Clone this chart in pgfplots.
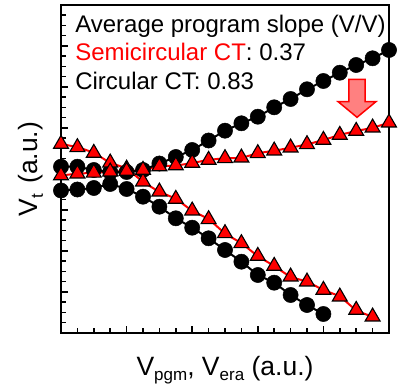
\documentclass[border=0pt]{standalone}
\usepackage{fontspec}
\setmainfont{Liberation Sans}
\usepackage{pgfplots}
\pgfplotsset{compat=1.18}
\definecolor{arrowfill}{HTML}{FF8080}
\newcommand{\sub}[1]{\raisebox{-5bp}{\fontsize{17bp}{17bp}\selectfont #1}}
\begin{document}
\begin{tikzpicture}
\begin{axis}[
  at={(0,0)}, anchor=south west, scale only axis,
  width=328bp, height=328bp,
  xmin=0, xmax=20, ymin=0, ymax=328,
  xtick={0,4,...,20}, minor x tick num=3,
  ytick={0,41,...,328}, minor y tick num=3,
  xticklabels={}, yticklabels={},
  xtick pos=bottom, ytick pos=left, tick align=inside,
  major tick length=7bp, minor tick length=5bp,
  every tick/.append style={black, line width=1.5bp},
  axis line style={line width=2bp},
  clip=false,
]
% red fitted lines
\addplot[red, line width=2bp, smooth, no marks] coordinates {
(0,189) (1,185.7) (2,180) (3,170.3) (4,164.2) (5,151.3) (6,141.3) (7,134) (8,122.3) (9,113.7)
(10,99.7) (11,89.7) (12,77) (13,67) (14,56.3) (15,51.3) (16,43) (17,36.3) (18,23) (19,16.3)};
\addplot[red, line width=2bp, smooth, no marks] coordinates {
(0,157.5) (1,159.3) (2,160.2) (3,161.3) (4,162) (5,163) (6,166.5) (7,167.5) (8,170) (9,173)
(10,174.7) (11,175.3) (12,179.7) (13,182.3) (14,185.3) (15,188.7) (16,193) (17,198) (18,202) (19,205.3) (20,210.3)};
% circular CT (black circles)
\addplot[black, line width=2bp, mark=*, mark size=7.6bp, mark options={line width=0.5bp}] coordinates {
(0,166.3) (1,166.3) (2,163) (3,161) (4,161) (5,163) (6,169.5) (7,176) (8,183) (9,192.5)
(10,202.3) (11,209.7) (12,216.3) (13,225.7) (14,234) (15,243.7) (16,252) (17,260.3) (18,268) (19,274.7) (20,283)};
\addplot[black, line width=2bp, mark=*, mark size=7.6bp, mark options={line width=0.5bp}] coordinates {
(0,142.5) (1,143.5) (2,145) (3,149) (4,144) (5,136.3) (6,126.3) (7,114.7) (8,105.3) (9,94.7)
(10,83) (11,71.3) (12,58) (13,50.3) (14,38) (15,28) (16,19)};
% semicircular CT (red triangles)
\addplot[only marks, mark=triangle*, mark size=8.6bp, mark options={fill=red, draw=black, line width=1.1bp}] coordinates {
(0,189) (1,185.7) (2,180) (3,170.3) (4,164.2) (5,151.3) (6,141.3) (7,134) (8,122.3) (9,113.7)
(10,99.7) (11,89.7) (12,77) (13,67) (14,56.3) (15,51.3) (16,43) (17,36.3) (18,23) (19,16.3)};
\addplot[only marks, mark=triangle*, mark size=8.6bp, mark options={fill=red, draw=black, line width=1.1bp}] coordinates {
(0,157.5) (1,159.3) (2,160.2) (3,161.3) (4,162) (5,163) (6,166.5) (7,167.5) (8,170) (9,173)
(10,174.7) (11,175.3) (12,179.7) (13,182.3) (14,185.3) (15,188.7) (16,193) (17,198) (18,202) (19,205.3) (20,210.3)};
% arrow
\filldraw[fill=arrowfill, draw=red, line width=1.5bp]
  (axis cs:17.56,253.7) -- (axis cs:18.54,253.7) -- (axis cs:18.54,231.3) -- (axis cs:19.2,231.3)
  -- (axis cs:18.05,215.7) -- (axis cs:16.9,231.3) -- (axis cs:17.56,231.3) -- cycle;
% text
\node[anchor=base west, inner sep=0pt, font=\fontsize{24bp}{28bp}\selectfont] at (rel axis cs:0.043,0.9168) {Average program slope (V/V)};
\node[anchor=base west, inner sep=0pt, font=\fontsize{24bp}{28bp}\selectfont] at (rel axis cs:0.043,0.8293) {\textcolor{red}{Semicircular CT}: 0.37};
\node[anchor=base west, inner sep=0pt, font=\fontsize{24bp}{28bp}\selectfont] at (rel axis cs:0.043,0.743) {Circular CT: 0.83};
% axis labels
\node[anchor=base, inner sep=0pt, font=\fontsize{26.5bp}{30bp}\selectfont] at ([yshift=-42bp]rel axis cs:0.5,0) {V\sub{pgm}, V\sub{era} (a.u.)};
\node[anchor=base, inner sep=0pt, rotate=90, font=\fontsize{26.5bp}{30bp}\selectfont] at ([xshift=-23bp]rel axis cs:0,0.5) {V\sub{t}\hspace{10bp}(a.u.)};
\end{axis}
\pgfresetboundingbox
\path[use as bounding box] (-61bp,-54bp) rectangle (340bp,333bp);
\end{tikzpicture}
\end{document}
